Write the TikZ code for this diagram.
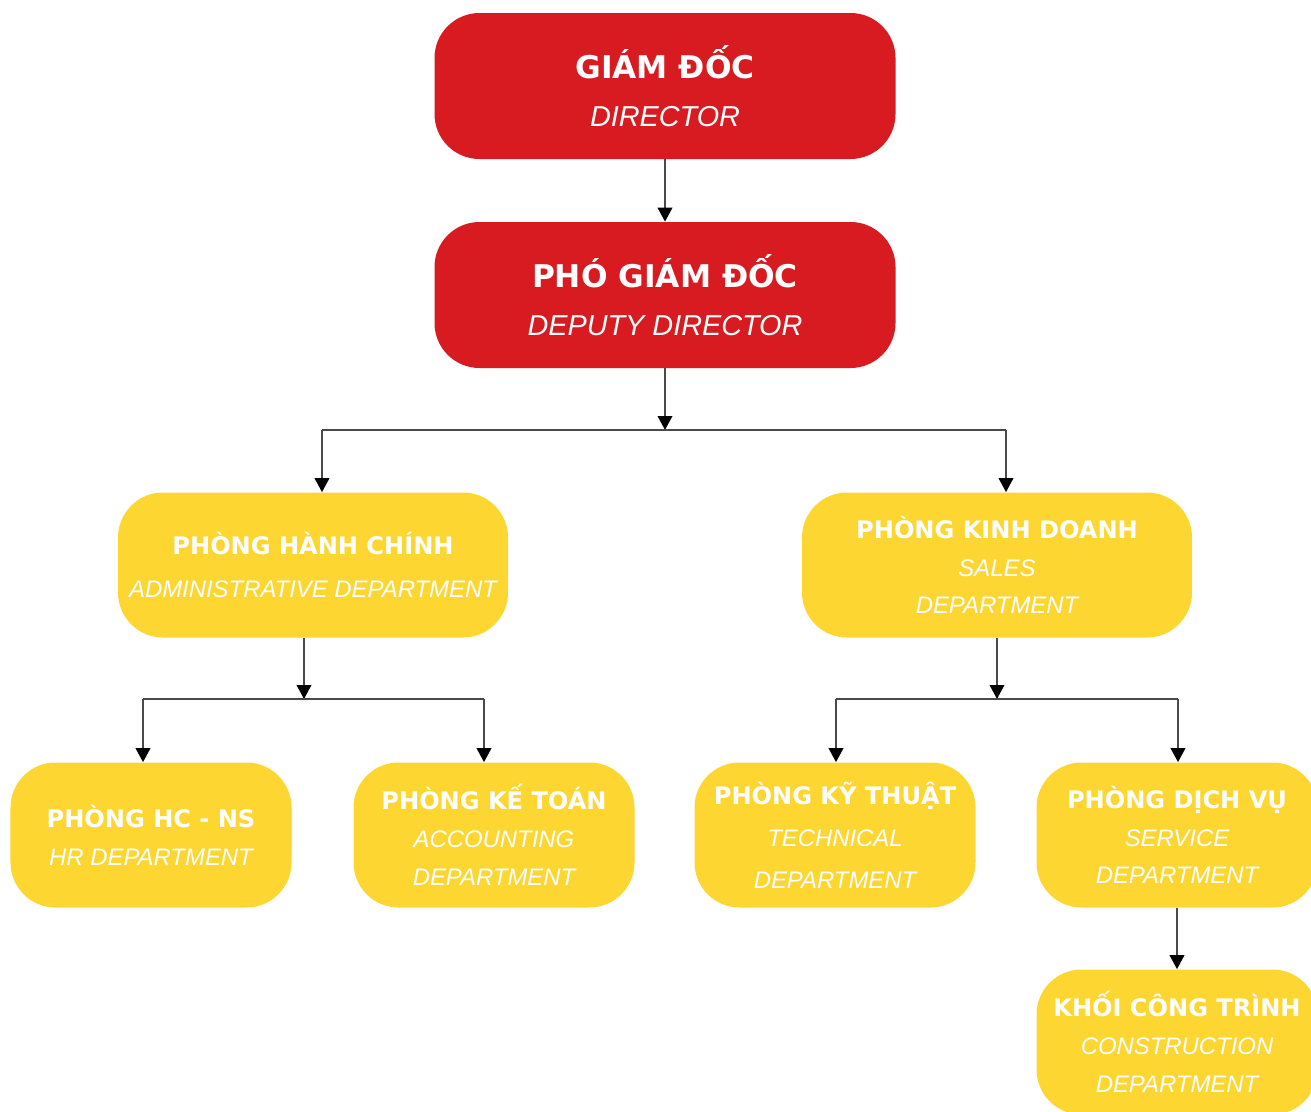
\documentclass[tikz,border=0pt]{standalone}
\usepackage{fontspec}
\usetikzlibrary{arrows.meta}
\newfontfamily\headfont{DejaVu Sans}
\newfontfamily\subfont{Liberation Sans}
\definecolor{bossred}{HTML}{D81B21}
\definecolor{deptyellow}{HTML}{FED632}
\definecolor{linegray}{HTML}{4A4A4A}
\newcommand{\bighead}{\headfont\upshape\bfseries\fontsize{17.8}{27}\selectfont}
\newcommand{\bigsub}{\subfont\itshape\fontsize{16.4}{27}\selectfont}
\newcommand{\smallhead}{\headfont\upshape\bfseries\fontsize{13.7}{21.5}\selectfont}
\newcommand{\smallsub}{\subfont\itshape\fontsize{13.6}{21.5}\selectfont}
\tikzset{
    redbox/.style={fill=bossred, text=white, rounded corners=9mm, minimum width=92.2mm, minimum height=29.2mm, align=center, font=\bigsub},
    widebox/.style={fill=deptyellow, text=white, rounded corners=9mm, minimum width=78mm, minimum height=29mm, align=center, font=\smallsub},
    narrowbox/.style={widebox, minimum width=56.2mm},
    wire/.style={draw=linegray, line width=0.4mm},
    downarrow/.style={wire, -{Triangle[width=2.9mm,length=2.8mm,color=black]}}
}
\begin{document}
\begin{tikzpicture}[x=0.2mm,y=-0.2mm]
            \useasboundingbox (0,0) rectangle (1311,1111);
            \node[redbox] (dir) at (665,86) {{\bighead GIÁM ĐỐC}\\DIRECTOR};
            \node[redbox] (dep) at (665,295) {{\bighead PHÓ GIÁM ĐỐC}\\DEPUTY DIRECTOR};
            \node[widebox] (adm) at (313,565) {{\smallhead PHÒNG HÀNH CHÍNH}\\[2.5pt]ADMINISTRATIVE DEPARTMENT};
            \node[widebox] (sal) at (997,565) {{\smallhead PHÒNG KINH DOANH}\\SALES\\DEPARTMENT};
            \node[narrowbox] (hr) at (151,835) {{\smallhead PHÒNG HC - NS}\\HR DEPARTMENT};
            \node[narrowbox] (acc) at (494,835) {{\smallhead PHÒNG KẾ TOÁN}\\ACCOUNTING\\DEPARTMENT};
            \node[narrowbox] (tec) at (835,835) {{\smallhead PHÒNG KỸ THUẬT}\\[2.5pt]TECHNICAL\\[2.5pt]DEPARTMENT};
            \node[narrowbox] (ser) at (1177,835) {{\smallhead PHÒNG DỊCH VỤ}\\SERVICE\\DEPARTMENT};
            \node[narrowbox] (con) at (1177,1042) {{\smallhead KHỐI CÔNG TRÌNH}\\CONSTRUCTION\\DEPARTMENT};
            \coordinate (top) at (665,430);
            \coordinate (topl) at (322,430);
            \coordinate (topr) at (1006,430);
            \coordinate (left) at (304,699);
            \coordinate (leftl) at (143,699);
            \coordinate (leftr) at (484,699);
            \coordinate (right) at (997,699);
            \coordinate (rightl) at (836,699);
            \coordinate (rightr) at (1178,699);
            \draw[downarrow] (dir) -- (dep);
            \draw[downarrow] (dep) -- (top);
            \draw[downarrow] (left |- adm.south) -- (left);
            \draw[downarrow] (sal) -- (right);
            \draw[downarrow] (ser) -- (con);
            \draw[wire] (topl) -- (topr);
            \draw[wire] (leftl) -- (leftr);
            \draw[wire] (rightl) -- (rightr);
            \foreach \a/\b in {topl/adm,topr/sal,leftl/hr,leftr/acc,rightl/tec,rightr/ser}
                {
                    \draw[downarrow] (\a) -- (\a |- \b.north);
                }
        \end{tikzpicture}
\end{document}
